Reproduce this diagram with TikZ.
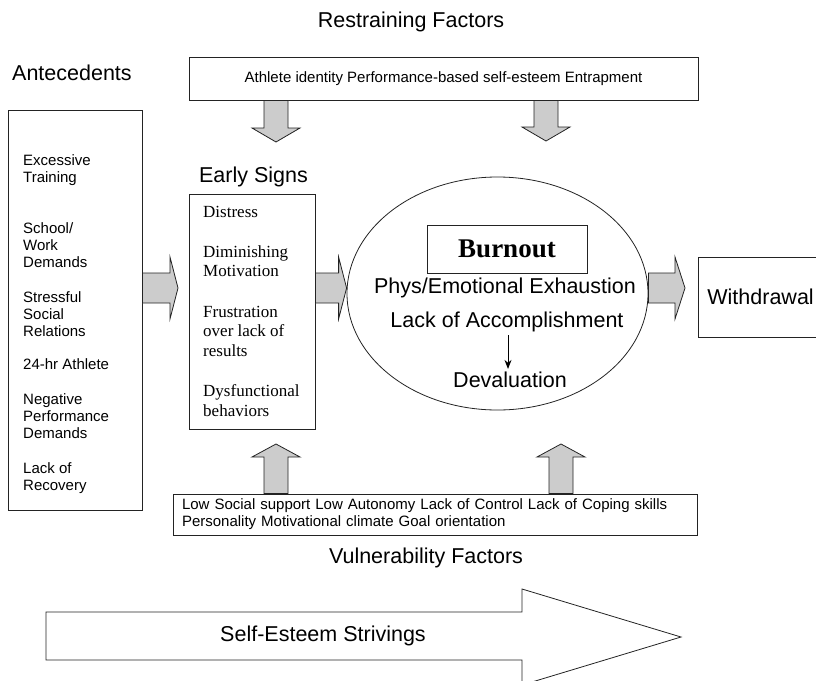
\documentclass[tikz,border=0pt]{standalone}
\usepackage{fontspec}
\setmainfont{Liberation Sans}
\newfontfamily\timesfont{Liberation Serif}
\usetikzlibrary{arrows,arrows.meta,shapes,positioning,calc}
\definecolor{arrowgray}{RGB}{204,204,204}
\definecolor{edgegray}{RGB}{35,35,35}
\newcommand{\lblfont}{\fontsize{21.5}{25}\selectfont}
\newcommand{\itemfont}{\fontsize{15}{17}\selectfont}
\newcommand{\signfont}{\timesfont\fontsize{17}{19.5}\selectfont}
\newcommand{\burnfont}{\timesfont\bfseries\fontsize{27}{30}\selectfont}
\tikzstyle{box} = [rectangle, draw=edgegray, line width=0.8pt, inner sep=0pt]
\tikzstyle{outline} = [draw=edgegray, line width=0.8pt, line join=miter]
\tikzstyle{blockarrow} = [draw=edgegray, fill=arrowgray, line width=0.8pt, line join=miter]
\tikzstyle{title} = [font=\lblfont, inner sep=0pt]
% fat gray arrow: tail, tip, half shaft, half head, head length
\newcommand{\fatarrow}[5]{%
  \draw[blockarrow] let \p1=(#1), \p2=(#2),
      \n1={veclen(\x2-\x1,\y2-\y1)}, \n2={atan2(\y2-\y1,\x2-\x1)} in
    [shift={(\p1)}, rotate=\n2]
    (0pt,#3) -- (\n1-#5,#3) -- (\n1-#5,#4) -- (\n1,0pt) -- (\n1-#5,-#4)
    -- (\n1-#5,-#3) -- (0pt,-#3) -- cycle;}

\begin{document}
\begin{tikzpicture}[x=1pt, y=-1pt]
\useasboundingbox (0,0) rectangle (816,680);

% restraining factors
\node[title] (rtitle) at (411,22) {Restraining Factors};
\node[box, minimum width=509, minimum height=43, font=\itemfont] (restrain) at (443.5,78.5) {Athlete identity Performance-based self-esteem Entrapment};

% antecedents
\node[title, anchor=west] (atitle) at (12,73) {Antecedents};
\node[box, minimum width=134, minimum height=400] (ante) at (75,310) {};
\node[font=\itemfont, align=left, anchor=north west, inner sep=0pt] (antetext) at (23,154)
  {Excessive\\Training\\[34pt]School/\\Work\\Demands\\[18pt]Stressful\\Social\\Relations\\[16pt]24-hr Athlete\\[18pt]Negative\\Performance\\Demands\\[18pt]Lack of\\Recovery};

% early signs
\node[title] (etitle) at (253.5,177) {Early Signs};
\node[box, minimum width=126, minimum height=235] (early) at (252,311.5) {};
\node[font=\signfont, align=left, anchor=north west, inner sep=0pt] (earlytext) at (203,206)
  {Distress\\[20.5pt]Diminishing\\Motivation\\[21pt]Frustration\\over lack of\\results\\[21pt]Dysfunctional\\behaviors};

% burnout
\node[ellipse, draw=edgegray, line width=0.8pt, minimum width=301, minimum height=233, inner sep=0pt] (burn) at (497.5,293.5) {};
\node[box, minimum width=160, minimum height=48, font=\burnfont] (burnbox) at (507,249) {Burnout};
\node[title] (phys) at (505,288) {Phys/Emotional Exhaustion};
\node[title] (lack) at (507,322) {Lack of Accomplishment};
\node[title] (deval) at (510,380) {Devaluation};
\draw[line width=0.8pt, -{Stealth[length=9pt,width=7pt]}, shorten <=3pt, shorten >=3pt] (lack.south -| 508,0) -- (deval.north -| 508,0);

% withdrawal
\node[box, anchor=west, minimum height=80, text width=130, inner xsep=9, align=left, font=\lblfont] (withdraw) at (698,297) {Withdrawal};

% vulnerability factors
\node[box, minimum width=524, minimum height=41, text width=506, inner xsep=9, align=left, font=\itemfont] (vuln) at (435,514.5)
  {Low Social support Low Autonomy Lack of Control Lack of Coping skills\\Personality Motivational climate Goal orientation};
\node[title] (vtitle) at (426,558) {Vulnerability Factors};

% self-esteem strivings
\draw[outline] (46,612) -- (522,612) -- (522,589) -- (681,637) -- (522,685) -- (522,660) -- (46,660) -- cycle;
\node[title] (strive) at (323,636) {Self-Esteem Strivings};

% connectors
\coordinate (mid) at (0,288);
\coordinate (tipA) at (178,288);
\coordinate (tipW) at (685,288);
\coordinate (downL) at (276,142);
\coordinate (downR) at (546,141);
\coordinate (upL) at (276,444);
\coordinate (upR) at (561,444);

\fatarrow{ante.east |- mid}{tipA}{15pt}{31pt}{8pt}
\fatarrow{early.east |- mid}{burn.west |- mid}{15pt}{31pt}{8pt}
\fatarrow{burn.east |- mid}{tipW}{15pt}{31pt}{10pt}
\fatarrow{restrain.south -| downL}{downL}{12pt}{24pt}{14pt}
\fatarrow{restrain.south -| downR}{downR}{12pt}{24pt}{14pt}
\fatarrow{vuln.north -| upL}{upL}{12pt}{24pt}{13pt}
\fatarrow{vuln.north -| upR}{upR}{12pt}{24pt}{13pt}
\end{tikzpicture}
\end{document}
